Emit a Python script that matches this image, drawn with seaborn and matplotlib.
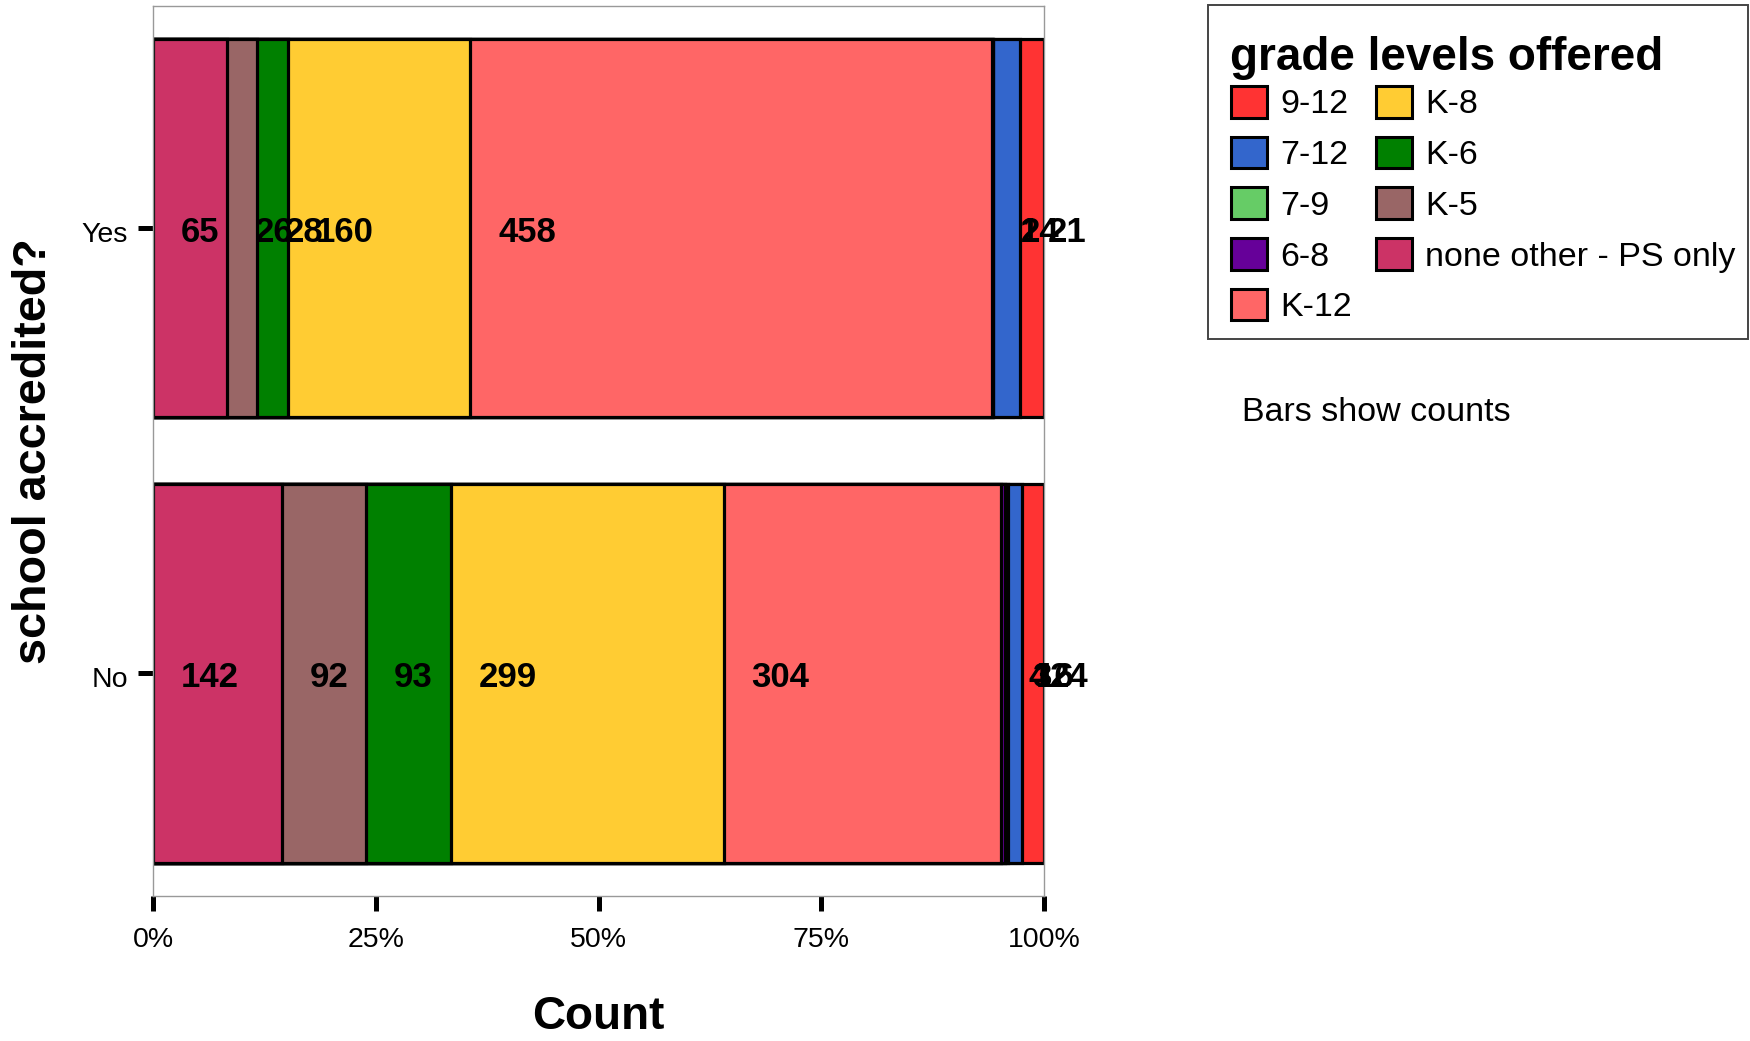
import matplotlib
matplotlib.use("Agg")
import matplotlib.pyplot as plt
import matplotlib.transforms as mtransforms
from matplotlib.patches import Patch, Rectangle
import numpy as np
import pandas as pd
import seaborn as sns

# data (segments from left to right)
grades = ["none other - PS only", "K-5", "K-6", "K-8", "K-12", "6-8", "7-9", "7-12", "9-12"]
accredited = ["Yes", "No"]
yes_counts = [65, 26, 28, 160, 458, 1, 0, 24, 21]
no_counts = [142, 92, 93, 299, 304, 4, 3, 16, 24]
grade_colors = ["#CC3366", "#996666", "#008000", "#FFCC33", "#FF6666",
                "#660099", "#66CC66", "#3366CC", "#FF3333"]

sns.set_style("white")
plt.rcParams["font.family"] = ["Liberation Sans", "DejaVu Sans"]
plt.rcParams["text.color"] = "black"
plt.rcParams["axes.labelcolor"] = "black"
plt.rcParams["xtick.color"] = "black"
plt.rcParams["ytick.color"] = "black"

counts = pd.DataFrame([yes_counts, no_counts], index=accredited, columns=grades)
shares = counts.div(counts.sum(axis=1), axis=0)
cum_right = shares.cumsum(axis=1)
cum_left = cum_right - shares

W, H = 1750, 1041
fig = plt.figure(figsize=(W / 100, H / 100), dpi=100)
ax = fig.add_axes([0.0874, 0.1393, 0.5092, 0.8553])

# stacked bars: draw cumulative totals from the widest to the narrowest
for g, c in reversed(list(zip(grades, grade_colors))):
    df = pd.DataFrame({"accredited": accredited, "share": cum_right[g].values})
    sns.barplot(data=df, x="share", y="accredited", orient="h", color=c,
                saturation=1, width=0.85, edgecolor="black", linewidth=2.3, ax=ax)

# count labels, left-aligned a little inside each segment
for i, a in enumerate(accredited):
    for g in grades:
        n = counts.loc[a, g]
        if n == 0:
            continue
        ax.annotate(str(n), xy=(cum_left.loc[a, g], i), xytext=(20, -3),
                    textcoords="offset points", ha="left", va="center",
                    fontsize=25, fontweight="bold", color="black")

ax.set_xlim(0, 1)
ax.set_ylim(1.5, -0.5)
ax.set_xticks([0, 0.25, 0.5, 0.75, 1])
ax.set_xticklabels(["0%", "25%", "50%", "75%", "100%"])
ax.tick_params(axis="both", which="major", length=11, width=3.6, color="black",
               labelsize=20.5, bottom=True, left=True)
ax.tick_params(axis="x", pad=11)
ax.tick_params(axis="y", pad=7)
for lbl in ax.get_yticklabels():
    lbl.set_transform(lbl.get_transform() +
                      mtransforms.ScaledTranslation(0, -2.5 / 72, fig.dpi_scale_trans))
for s in ax.spines.values():
    s.set_color("#999999")
    s.set_linewidth(1)

ax.set_xlabel("Count", fontsize=33, fontweight="bold")
ax.xaxis.set_label_coords(0.5, -0.136)
ax.xaxis.label.set_va("center")
ax.set_ylabel("")
fig.text(34.5 / W, 0.567, "school accredited?", rotation=90, ha="center", va="center",
         fontsize=33.7, fontweight="bold")

# legend: frame, title and entries placed separately
fig.patches.append(Rectangle((1208 / W, 1 - 339 / H), 540 / W, 334 / H,
                             transform=fig.transFigure, fill=False,
                             edgecolor="#444444", linewidth=1.4))
fig.text(1230 / W, 1 - 70 / H, "grade levels offered", ha="left", va="baseline",
         fontsize=33, fontweight="bold")
handles = [Patch(facecolor=c, edgecolor="black", linewidth=2.2) for c in grade_colors]
leg = fig.legend(handles[::-1], grades[::-1], ncol=2, loc="upper left",
                 bbox_to_anchor=(1231 / W, 1 - 86 / H), fontsize=24.5,
                 frameon=False, handlelength=1.05, handleheight=1.05,
                 handletextpad=0.4, labelspacing=0.48, columnspacing=0.7,
                 borderpad=0, borderaxespad=0)

fig.text(1242 / W, 1 - 413 / H, "Bars show counts", ha="left", va="center", fontsize=24.5)

fig.savefig("out.png", dpi=100)
plt.close(fig)
